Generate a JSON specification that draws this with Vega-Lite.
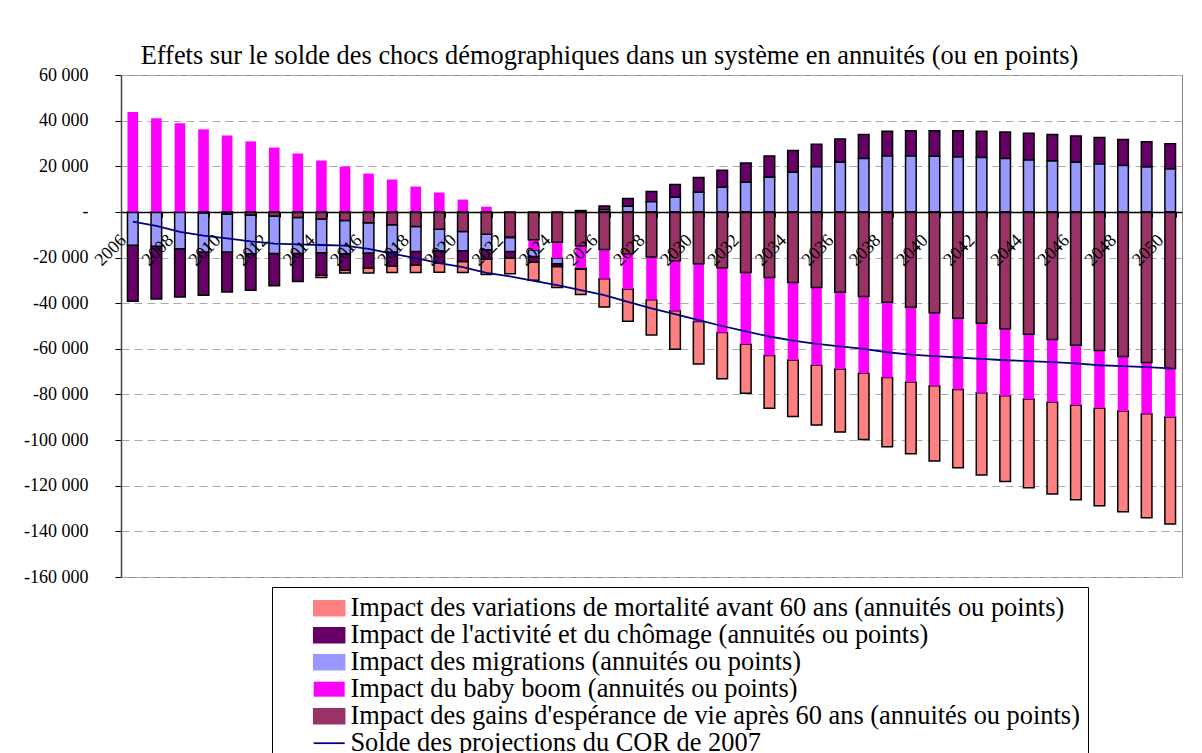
{
  "$schema": "https://vega.github.io/schema/vega-lite/v6.json",
  "width": 1061,
  "height": 502,
  "autosize": {"type": "none"},
  "padding": {"left": 121, "top": 75, "right": 20, "bottom": 176},
  "background": "white",
  "title": {
    "text": "Effets sur le solde des chocs démographiques dans un système en annuités (ou en points)",
    "font": "Liberation Serif",
    "fontSize": 26.4,
    "fontWeight": "normal",
    "color": "black",
    "anchor": "middle",
    "baseline": "bottom",
    "dx": -42,
    "dy": 38,
    "offset": 8
  },
  "data": {
    "values": [
      {"annee": 2006, "a_mort": null, "b_act": -24500, "c_mig": -14600, "d_bb": 43800, "e_gains": null, "f_solde": -4300},
      {"annee": 2007, "a_mort": null, "b_act": -23100, "c_mig": -15100, "d_bb": 41000, "e_gains": null, "f_solde": -6100},
      {"annee": 2008, "a_mort": null, "b_act": -21200, "c_mig": -16100, "d_bb": 38800, "e_gains": null, "f_solde": -8800},
      {"annee": 2009, "a_mort": null, "b_act": -18900, "c_mig": -17200, "d_bb": 36200, "e_gains": -400, "f_solde": -10400},
      {"annee": 2010, "a_mort": null, "b_act": -17500, "c_mig": -16700, "d_bb": 33500, "e_gains": -900, "f_solde": -11600},
      {"annee": 2011, "a_mort": null, "b_act": -16000, "c_mig": -17000, "d_bb": 30900, "e_gains": -1300, "f_solde": -12900},
      {"annee": 2012, "a_mort": null, "b_act": -14200, "c_mig": -16400, "d_bb": 28200, "e_gains": -1800, "f_solde": -13900},
      {"annee": 2013, "a_mort": null, "b_act": -12300, "c_mig": -15700, "d_bb": 25600, "e_gains": -2500, "f_solde": -14200},
      {"annee": 2014, "a_mort": -900, "b_act": -9900, "c_mig": -14800, "d_bb": 22500, "e_gains": -3100, "f_solde": -14500},
      {"annee": 2015, "a_mort": -1200, "b_act": -7300, "c_mig": -14500, "d_bb": 19900, "e_gains": -3800, "f_solde": -14800},
      {"annee": 2016, "a_mort": -2200, "b_act": -6600, "c_mig": -13200, "d_bb": 16800, "e_gains": -4800, "f_solde": -16200},
      {"annee": 2017, "a_mort": -2800, "b_act": -6100, "c_mig": -12000, "d_bb": 14200, "e_gains": -5600, "f_solde": -18300},
      {"annee": 2018, "a_mort": -3200, "b_act": -5900, "c_mig": -11000, "d_bb": 11100, "e_gains": -6400, "f_solde": -20300},
      {"annee": 2019, "a_mort": -4000, "b_act": -5400, "c_mig": -9400, "d_bb": 8500, "e_gains": -7600, "f_solde": -22400},
      {"annee": 2020, "a_mort": -4800, "b_act": -4700, "c_mig": -8400, "d_bb": 5400, "e_gains": -8600, "f_solde": -24200},
      {"annee": 2021, "a_mort": -6600, "b_act": -4200, "c_mig": -6800, "d_bb": 2300, "e_gains": -9800, "f_solde": -26700},
      {"annee": 2022, "a_mort": -6900, "b_act": -2900, "c_mig": -6000, "d_bb": -300, "e_gains": -11000, "f_solde": -28300},
      {"annee": 2023, "a_mort": -7900, "b_act": -2600, "c_mig": -2800, "d_bb": -4500, "e_gains": -12200, "f_solde": -30200},
      {"annee": 2024, "a_mort": -9200, "b_act": -1200, "c_mig": -2500, "d_bb": -6900, "e_gains": -13300, "f_solde": -32100},
      {"annee": 2025, "a_mort": -11100, "b_act": 600, "c_mig": -500, "d_bb": -9800, "e_gains": -14800, "f_solde": -34300},
      {"annee": 2026, "a_mort": -12400, "b_act": 1600, "c_mig": 1000, "d_bb": -12800, "e_gains": -16500, "f_solde": -36500},
      {"annee": 2027, "a_mort": -14100, "b_act": 3400, "c_mig": 2500, "d_bb": -15500, "e_gains": -18300, "f_solde": -39400},
      {"annee": 2028, "a_mort": -15400, "b_act": 4400, "c_mig": 4500, "d_bb": -18700, "e_gains": -19800, "f_solde": -42300},
      {"annee": 2029, "a_mort": -16900, "b_act": 5600, "c_mig": 6400, "d_bb": -21900, "e_gains": -21400, "f_solde": -44800},
      {"annee": 2030, "a_mort": -18600, "b_act": 6500, "c_mig": 8600, "d_bb": -25300, "e_gains": -22700, "f_solde": -47400},
      {"annee": 2031, "a_mort": -20200, "b_act": 7500, "c_mig": 10800, "d_bb": -28400, "e_gains": -24500, "f_solde": -50000},
      {"annee": 2032, "a_mort": -21500, "b_act": 8400, "c_mig": 13000, "d_bb": -31400, "e_gains": -26600, "f_solde": -52400},
      {"annee": 2033, "a_mort": -23200, "b_act": 9300, "c_mig": 15200, "d_bb": -34200, "e_gains": -28700, "f_solde": -54600},
      {"annee": 2034, "a_mort": -24800, "b_act": 9500, "c_mig": 17400, "d_bb": -34000, "e_gains": -30900, "f_solde": -56400},
      {"annee": 2035, "a_mort": -26200, "b_act": 9800, "c_mig": 19800, "d_bb": -34100, "e_gains": -33100, "f_solde": -57800},
      {"annee": 2036, "a_mort": -27700, "b_act": 10200, "c_mig": 21800, "d_bb": -33600, "e_gains": -35200, "f_solde": -58900},
      {"annee": 2037, "a_mort": -29000, "b_act": 10500, "c_mig": 23400, "d_bb": -33600, "e_gains": -37100, "f_solde": -60000},
      {"annee": 2038, "a_mort": -30300, "b_act": 10800, "c_mig": 24500, "d_bb": -33000, "e_gains": -39600, "f_solde": -61500},
      {"annee": 2039, "a_mort": -31500, "b_act": 11100, "c_mig": 24500, "d_bb": -32700, "e_gains": -41800, "f_solde": -62500},
      {"annee": 2040, "a_mort": -33000, "b_act": 11200, "c_mig": 24400, "d_bb": -32000, "e_gains": -44200, "f_solde": -63200},
      {"annee": 2041, "a_mort": -34300, "b_act": 11500, "c_mig": 24100, "d_bb": -31200, "e_gains": -46600, "f_solde": -63800},
      {"annee": 2042, "a_mort": -36000, "b_act": 11500, "c_mig": 23800, "d_bb": -30500, "e_gains": -48800, "f_solde": -64400},
      {"annee": 2043, "a_mort": -37500, "b_act": 11600, "c_mig": 23400, "d_bb": -29400, "e_gains": -51200, "f_solde": -65000},
      {"annee": 2044, "a_mort": -38900, "b_act": 11700, "c_mig": 22800, "d_bb": -28400, "e_gains": -53600, "f_solde": -65400},
      {"annee": 2045, "a_mort": -40200, "b_act": 11600, "c_mig": 22300, "d_bb": -27500, "e_gains": -55900, "f_solde": -65800},
      {"annee": 2046, "a_mort": -41400, "b_act": 11500, "c_mig": 21800, "d_bb": -26300, "e_gains": -58400, "f_solde": -66400},
      {"annee": 2047, "a_mort": -42800, "b_act": 11600, "c_mig": 21000, "d_bb": -25300, "e_gains": -60700, "f_solde": -67200},
      {"annee": 2048, "a_mort": -44100, "b_act": 11400, "c_mig": 20300, "d_bb": -23900, "e_gains": -63400, "f_solde": -67600},
      {"annee": 2049, "a_mort": -45500, "b_act": 11100, "c_mig": 19700, "d_bb": -22500, "e_gains": -66000, "f_solde": -68000},
      {"annee": 2050, "a_mort": -46900, "b_act": 11100, "c_mig": 18800, "d_bb": -21300, "e_gains": -68600, "f_solde": -68600}
    ]
  },
  "transform": [
    {"fold": ["a_mort", "b_act", "c_mig", "d_bb", "e_gains", "f_solde"], "as": ["serie", "valeur"]}
  ],
  "encoding": {
    "x": {
      "field": "annee",
      "type": "ordinal",
      "title": null,
      "scale": {"paddingInner": 0.55, "paddingOuter": 0.275},
      "axis": {
        "orient": "bottom",
        "offset": -365,
        "zindex": 1,
        "domainColor": "black",
        "domainWidth": 1.5,
        "tickColor": "black",
        "tickSize": 5,
        "tickBand": "extent",
        "labelAngle": -45,
        "labelAlign": "right",
        "labelBaseline": "top",
        "labelPadding": 14,
        "labelOffset": -16,
        "labelFont": "Liberation Serif",
        "labelFontSize": 18,
        "labelColor": "black",
        "labelOverlap": false,
        "labelExpr": "datum.value % 2 == 0 ? datum.label : ''",
        "grid": false
      }
    },
    "y": {
      "field": "valeur",
      "type": "quantitative",
      "scale": {"domain": [-160000, 60000], "nice": false, "zero": false},
      "axis": {
        "title": null,
        "values": [-160000, -140000, -120000, -100000, -80000, -60000, -40000, -20000, 0, 20000, 40000, 60000],
        "format": ",.0f",
        "labelExpr": "datum.value == 0 ? '-\u00a0\u00a0\u00a0\u00a0' : datum.label",
        "grid": true,
        "gridDash": [8, 5],
        "gridColor": "#aaaaaa",
        "gridWidth": 1,
        "domainColor": "#444444",
        "domainWidth": 1.5,
        "tickColor": "black",
        "tickSize": 6,
        "labelPadding": 27,
        "labelFont": "Liberation Serif",
        "labelFontSize": 18,
        "labelColor": "black"
      }
    },
    "color": {
      "field": "serie",
      "type": "nominal",
      "scale": {
        "domain": ["a_mort", "b_act", "c_mig", "d_bb", "e_gains", "f_solde"],
        "range": ["#FF8080", "#660066", "#9999FF", "#FF00FF", "#993366", "#000080"]
      },
      "legend": {
        "orient": "none",
        "legendX": 151,
        "legendY": 512,
        "direction": "vertical",
        "title": null,
        "padding": 8,
        "symbolOffset": 36,
        "strokeColor": "black",
        "fillColor": "white",
        "labelFont": "Liberation Serif",
        "labelFontSize": 26.4,
        "labelColor": "black",
        "labelLimit": 2000,
        "labelOffset": 8,
        "symbolSize": 625,
        "symbolStrokeColor": "black",
        "symbolStrokeWidth": 1.5,
        "rowPadding": 0,
        "labelExpr": "datum.label == 'a_mort' ? 'Impact des variations de mortalité avant 60 ans (annuités ou points)' : datum.label == 'b_act' ? \"Impact de l'activité et du chômage (annuités ou points)\" : datum.label == 'c_mig' ? 'Impact des migrations (annuités ou points)' : datum.label == 'd_bb' ? 'Impact du baby boom (annuités ou points)' : datum.label == 'e_gains' ? \"Impact des gains d'espérance de vie après 60 ans (annuités ou points)\" : 'Solde des projections du COR de 2007'",
        "encode": {
          "symbols": {
            "update": {
              "shape": {"signal": "datum.value == 'f_solde' ? 'M-1.24,-0.07H1.24V0.07H-1.24Z' : 'M-1.24,-0.6H1.24V0.6H-1.24Z'"},
              "stroke": {"signal": "datum.value == 'f_solde' ? '#000080' : datum.value == 'd_bb' ? 'transparent' : 'black'"},
              "strokeWidth": {"signal": "datum.value == 'f_solde' || datum.value == 'd_bb' ? 0 : 1.5"},
              "opacity": {"value": 1}
            }
          }
        }
      }
    }
  },
  "layer": [
    {
      "transform": [{"filter": "datum.serie != 'f_solde'"}],
      "mark": {"type": "bar", "stroke": "black", "strokeWidth": 1.5},
      "encoding": {
        "y": {"field": "valeur", "type": "quantitative", "stack": "zero"},
        "order": {"field": "serie", "sort": "descending"},
        "strokeOpacity": {
          "condition": {"test": "datum.serie == 'd_bb'", "value": 0},
          "value": 1
        }
      }
    },
    {
      "transform": [{"filter": "datum.serie == 'f_solde'"}],
      "mark": {"type": "line", "strokeWidth": 1.8},
      "encoding": {
        "y": {"field": "valeur", "type": "quantitative", "stack": null}
      }
    }
  ],
  "config": {
    "locale": {
      "number": {"decimal": ",", "thousands": " ", "grouping": [3], "currency": ["", " €"], "minus": "-"}
    },
    "view": {"stroke": "#888888", "strokeWidth": 1},
    "font": "Liberation Serif"
  }
}
